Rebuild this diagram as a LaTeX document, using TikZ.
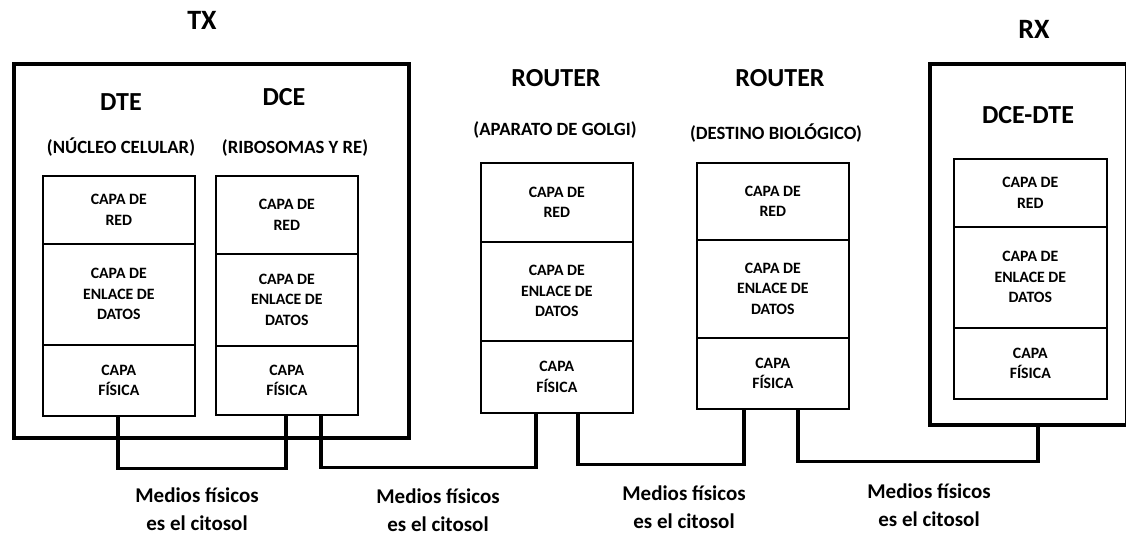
\documentclass[tikz,border=0pt]{standalone}
\usepackage{fontspec}
\setmainfont{Carlito}
\begin{document}
\begin{tikzpicture}[x=1pt,y=-1pt,
  outerbox/.style={draw, line width=3.5pt, anchor=north west, inner sep=0pt},
  cell/.style={draw, line width=1.6pt, anchor=north west, inner sep=0pt, align=center,
    font=\bfseries\fontsize{15.8}{20.5}\selectfont},
  biglabel/.style={font=\bfseries\fontsize{26}{30}\selectfont, inner sep=0pt},
  endlabel/.style={font=\bfseries\fontsize{28}{32}\selectfont, inner sep=0pt},
  sublabel/.style={font=\bfseries\fontsize{18.7}{22}\selectfont, inner sep=0pt},
  medlabel/.style={align=center, inner sep=0pt, font=\bfseries\fontsize{21}{27.5}\selectfont},
  wire/.style={line width=3.5pt, line join=miter}]
\useasboundingbox (0,0) rectangle (1126,535);

% outer boxes
\node[outerbox, minimum width=395pt, minimum height=374pt] (txbox) at (12,62) {};
\node[outerbox, minimum width=197pt, minimum height=361pt] (rxbox) at (928,62) {};

% titles
\node[endlabel] (tx) at (202,20) {TX};
\node[endlabel] (rx) at (1034,29) {RX};
\node[biglabel] (dte) at (121,102) {DTE};
\node[biglabel] (dce) at (284,97) {DCE};
\node[sublabel] (dtesub) at (121,147) {(NÚCLEO CELULAR)};
\node[sublabel] (dcesub) at (295,148) {(RIBOSOMAS Y RE)};
\node[biglabel] (r1lab) at (556,78) {ROUTER};
\node[sublabel] (r1sub) at (555,130) {(APARATO DE GOLGI)};
\node[biglabel] (r2lab) at (780,78) {ROUTER};
\node[sublabel] (r2sub) at (776,133) {(DESTINO BIOLÓGICO)};
\node[biglabel] (rxlab) at (1028,115) {DCE-DTE};

% DTE stack
\node[cell, minimum width=152pt, minimum height=68pt] (dte1) at (42,175) {CAPA DE\\RED};
\node[cell, minimum width=152pt, minimum height=101pt] (dte2) at (42,243) {CAPA DE\\ENLACE DE\\DATOS};
\node[cell, minimum width=152pt, minimum height=71pt] (dte3) at (42,344) {CAPA\\FÍSICA};
% DCE stack
\node[cell, minimum width=142pt, minimum height=78pt] (dce1) at (215,175) {CAPA DE\\RED};
\node[cell, minimum width=142pt, minimum height=92pt] (dce2) at (215,253) {CAPA DE\\ENLACE DE\\DATOS};
\node[cell, minimum width=142pt, minimum height=69pt] (dce3) at (215,345) {CAPA\\FÍSICA};
% Router 1
\node[cell, minimum width=152pt, minimum height=79pt] (ra1) at (480,162) {CAPA DE\\RED};
\node[cell, minimum width=152pt, minimum height=99pt] (ra2) at (480,241) {CAPA DE\\ENLACE DE\\DATOS};
\node[cell, minimum width=152pt, minimum height=72pt] (ra3) at (480,340) {CAPA\\FÍSICA};
% Router 2
\node[cell, minimum width=152pt, minimum height=77pt] (rb1) at (696,162) {CAPA DE\\RED};
\node[cell, minimum width=152pt, minimum height=98pt] (rb2) at (696,239) {CAPA DE\\ENLACE DE\\DATOS};
\node[cell, minimum width=152pt, minimum height=71pt] (rb3) at (696,337) {CAPA\\FÍSICA};
% RX stack
\node[cell, minimum width=153pt, minimum height=68pt] (rx1) at (953,158) {CAPA DE\\RED};
\node[cell, minimum width=153pt, minimum height=101pt] (rx2) at (953,226) {CAPA DE\\ENLACE DE\\DATOS};
\node[cell, minimum width=153pt, minimum height=71pt] (rx3) at (953,327) {CAPA\\FÍSICA};

% wires
\draw[wire] ([xshift=-1pt]dte3.south) -- ++(0,52) -| ([xshift=-1pt]dce3.south);
\draw[wire] ([xshift=34pt]dce3.south) -- ++(0,52) -| ([xshift=-21pt]ra3.south);
\draw[wire] ([xshift=21pt]ra3.south) -- ++(0,51) -| ([xshift=-29pt]rb3.south);
\draw[wire] ([xshift=25pt]rb3.south) -- ++(0,52) -| ([xshift=9.5pt]rxbox.south);

% media labels
\node[medlabel] (m1) at (197,509) {Medios físicos\\es el citosol};
\node[medlabel] (m2) at (438,510) {Medios físicos\\es el citosol};
\node[medlabel] (m3) at (684,507) {Medios físicos\\es el citosol};
\node[medlabel] (m4) at (929,505) {Medios físicos\\es el citosol};
\end{tikzpicture}
\end{document}
